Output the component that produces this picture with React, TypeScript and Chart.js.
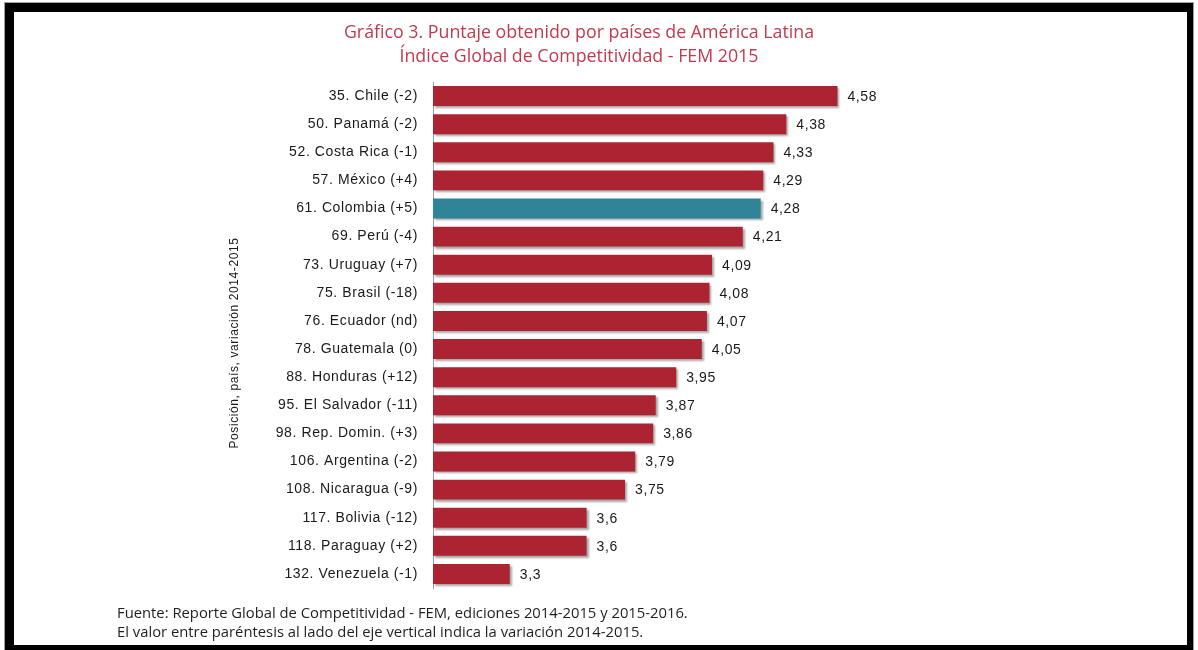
import React, { useEffect, useRef } from "react";
import { Chart, registerables } from "chart.js";

Chart.register(...registerables);

const categories = [
  "35. Chile (-2)",
  "50. Panamá (-2)",
  "52. Costa Rica (-1)",
  "57. México (+4)",
  "61. Colombia (+5)",
  "69. Perú (-4)",
  "73. Uruguay (+7)",
  "75. Brasil (-18)",
  "76. Ecuador (nd)",
  "78. Guatemala (0)",
  "88. Honduras (+12)",
  "95. El Salvador (-11)",
  "98. Rep. Domin. (+3)",
  "106. Argentina (-2)",
  "108. Nicaragua (-9)",
  "117. Bolivia (-12)",
  "118. Paraguay (+2)",
  "132. Venezuela (-1)",
];
const scores = [4.58, 4.38, 4.33, 4.29, 4.28, 4.21, 4.09, 4.08, 4.07, 4.05, 3.95, 3.87, 3.86, 3.79, 3.75, 3.6, 3.6, 3.3];
const highlighted = "61. Colombia (+5)";
const titleLines = [
  "Gráfico 3. Puntaje obtenido por países de América Latina",
  "Índice Global de Competitividad - FEM 2015",
];
const axisTitle = "Posición, país, variación 2014-2015";
const footnotes = [
  "Fuente: Reporte Global de Competitividad - FEM, ediciones 2014-2015 y 2015-2016.",
  "El valor entre paréntesis al lado del eje vertical indica la variación 2014-2015.",
];

const RED = "#AC2431";
const TEAL = "#2F8498";
const SANS = '"Liberation Sans", Arial, sans-serif';
const TITLE_FONT = '"Open Sans", Lato, sans-serif';

const shadowPlugin = {
  id: "barShadow",
  beforeDraw(chart: any) {
    chart.ctx.letterSpacing = "0.6px";
  },
  beforeDatasetsDraw(chart: any) {
    const ctx = chart.ctx;
    ctx.save();
    ctx.shadowColor = "rgba(0,0,0,0.35)";
    ctx.shadowOffsetX = 2;
    ctx.shadowOffsetY = 2;
    ctx.shadowBlur = 2;
  },
  afterDatasetsDraw(chart: any) {
    chart.ctx.restore();
  },
};

const textPlugin = {
  id: "texts",
  afterDraw(chart: any) {
    const ctx = chart.ctx;
    ctx.save();
    // value labels
    ctx.letterSpacing = "0.6px";
    ctx.font = `14px ${SANS}`;
    ctx.fillStyle = "#1a1a1a";
    ctx.textAlign = "left";
    ctx.textBaseline = "middle";
    const meta = chart.getDatasetMeta(0);
    meta.data.forEach((bar: any, i: number) => {
      const label = String(scores[i]).replace(".", ",");
      ctx.fillText(label, bar.x + 10, bar.y + 1);
    });
    // title
    ctx.letterSpacing = "0px";
    ctx.font = `17.8px ${TITLE_FONT}`;
    ctx.fillStyle = "#C23A4D";
    ctx.textAlign = "center";
    ctx.fillText(titleLines[0], 579, 33);
    ctx.fillText(titleLines[1], 579, 57);
    // footnotes
    ctx.font = `14.8px ${TITLE_FONT}`;
    ctx.fillStyle = "#1f1f1f";
    ctx.textAlign = "left";
    ctx.fillText(footnotes[0], 117, 614);
    ctx.fillText(footnotes[1], 117, 633);
    // axis title
    ctx.letterSpacing = "0.6px";
    ctx.translate(235, 343);
    ctx.rotate(-Math.PI / 2);
    ctx.font = `12px ${SANS}`;
    ctx.fillStyle = "#1a1a1a";
    ctx.textAlign = "center";
    ctx.fillText(axisTitle, 0, 0);
    ctx.restore();
  },
};

export default function App() {
  const ref = useRef<HTMLCanvasElement | null>(null);

  useEffect(() => {
    if (!ref.current) return;
    const chart = new Chart(ref.current, {
      type: "bar",
      data: {
        labels: categories,
        datasets: [
          {
            data: scores,
            base: 3,
            backgroundColor: categories.map((c) => (c === highlighted ? TEAL : RED)),
            barPercentage: 0.71,
            categoryPercentage: 1,
          },
        ],
      },
      options: {
        animation: false,
        responsive: false,
        indexAxis: "y",
        layout: { padding: { top: 82, bottom: 62, left: 0, right: 253 } },
        plugins: {
          legend: { display: false },
          tooltip: { enabled: false },
          title: { display: false },
        },
        scales: {
          x: { display: false, min: 3, max: 5 },
          y: {
            afterFit: (s: any) => {
              s.width = 433;
            },
            grid: { display: false, drawTicks: false },
            border: { display: true, color: "#9a9a9a", width: 1 },
            ticks: {
              autoSkip: false,
              padding: 15,
              color: "#1a1a1a",
              font: { family: SANS, size: 14 },
            },
          },
        },
      },
      plugins: [shadowPlugin, textPlugin],
    });
    return () => chart.destroy();
  }, []);

  return (
    <div style={{ position: "absolute", left: 0, top: 0, width: 1198, height: 650, background: "#fff", overflow: "hidden" }}>
      <div
        style={{
          position: "absolute",
          left: 5,
          top: 3,
          width: 1188,
          height: 647,
          boxSizing: "border-box",
          borderStyle: "solid",
          borderColor: "#000",
          borderLeftWidth: 9,
          borderTopWidth: 9,
          borderRightWidth: 6,
          borderBottomWidth: 5,
          boxShadow: "0 0 0 1px #a0a0a0",
          background: "#fff",
        }}
      />
      <canvas ref={ref} width={1198} height={650} style={{ position: "absolute", left: 0, top: 0, width: 1198, height: 650 }} />
    </div>
  );
}
